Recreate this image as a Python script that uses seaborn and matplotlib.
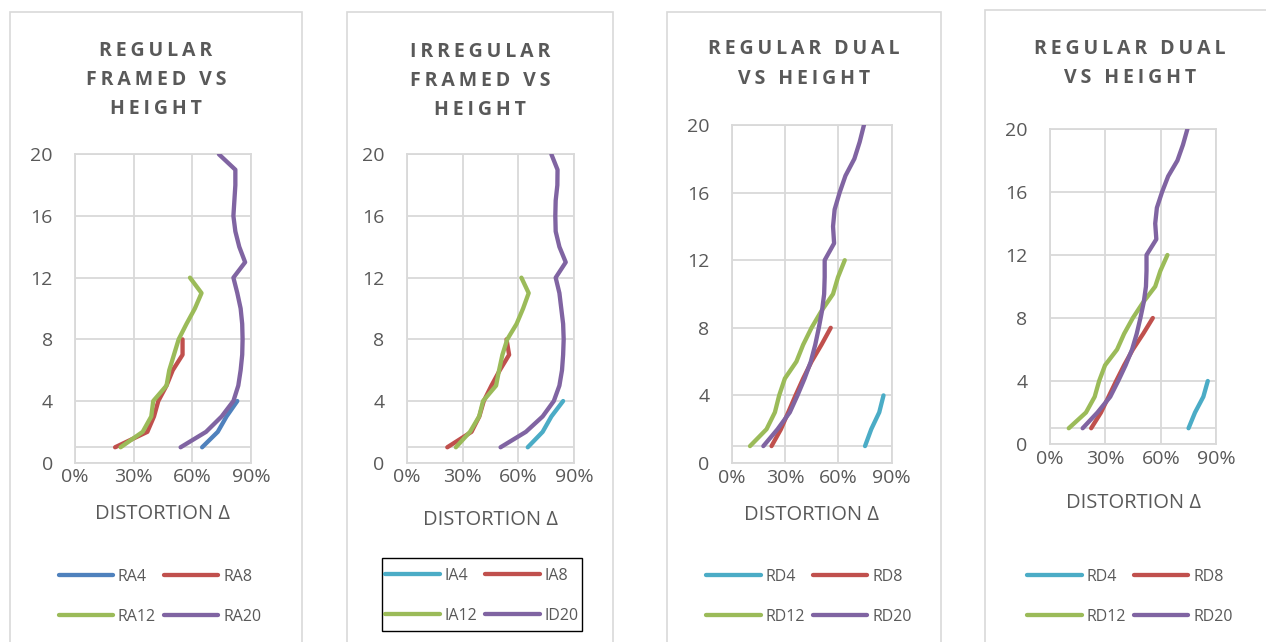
import matplotlib
matplotlib.use("Agg")
import matplotlib.pyplot as plt
from matplotlib.patches import Rectangle
import pandas as pd
import seaborn as sns

# ---- storey levels -------------------------------------------------------
levels_4 = [1, 2, 3, 4]
levels_8 = [1, 2, 3, 4, 5, 6, 7, 8]
levels_12 = [1, 2, 3, 4, 5, 6, 7, 8, 9, 10, 11, 12]
levels_20 = [1, 2, 3, 4, 5, 6, 7, 8, 9, 10, 11, 12, 13, 14, 15, 16, 17, 18, 19, 20]

# ---- distortion (%) per storey ------------------------------------------
ra4 = [65, 73, 77.5, 83]
ra8 = [20.5, 37, 40.4, 42.6, 46.8, 50, 55, 55]
ra12 = [23.3, 34.6, 39, 40, 46.8, 48.2, 50.6, 53, 57, 61.3, 64.7, 58.8]
ra20 = [54, 67, 75, 81, 83.5, 84.7, 85.5, 85.7, 85.5, 84.7, 83, 81,
        87, 84, 82, 81, 81.5, 82, 82, 73.6]

ia4 = [65, 73, 77.7, 84]
ia8 = [21.8, 34.8, 39, 41.4, 45.5, 50, 55, 53.6]
ia12 = [26.4, 34, 38.9, 41, 48, 49.6, 51.4, 54, 59, 62.5, 65.5, 61.6]
id20 = [50.4, 64, 73, 79, 82, 83.4, 84, 84.3, 84, 83, 82, 80,
        85.4, 82, 80, 79.8, 80, 80.9, 81, 77.7]

rd4 = [75, 78.5, 83, 85.4]
rd8 = [22.4, 27.7, 31.8, 35.9, 40.2, 44.9, 50.5, 55.7]
rd12 = [10.3, 19.6, 24.3, 26.7, 29.9, 36.4, 40.2, 44.9, 50.5, 57, 59.8, 63.6]
rd20 = [17.8, 25.8, 32.7, 37, 41, 44.5, 47, 49, 50.8, 52, 52.3, 52.3,
        57.6, 57, 57.9, 60.7, 64, 69, 72, 74.4]

titles = [["REGULAR", "FRAMED VS", "HEIGHT"], ["IRREGULAR", "FRAMED VS", "HEIGHT"],
          ["REGULAR DUAL", "VS HEIGHT"], ["REGULAR DUAL", "VS HEIGHT"]]
x_label = "DISTORTION Δ"
x_ticks = [0, 30, 60, 90]
y_ticks = [0, 4, 8, 12, 16, 20]

BLUE, RED, GREEN, PURPLE, CYAN = "#4F81BD", "#C0504D", "#9BBB59", "#8064A2", "#4BACC6"
TEXT = "#595959"
GRID = "#D9D9D9"

panels = [
    {"names": ["RA4", "RA8", "RA12", "RA20"], "values": [ra4, ra8, ra12, ra20],
     "colors": [BLUE, RED, GREEN, PURPLE]},
    {"names": ["IA4", "IA8", "IA12", "ID20"], "values": [ia4, ia8, ia12, id20],
     "colors": [CYAN, RED, GREEN, PURPLE]},
    {"names": ["RD4", "RD8", "RD12", "RD20"], "values": [rd4, rd8, rd12, rd20],
     "colors": [CYAN, RED, GREEN, PURPLE]},
    {"names": ["RD4", "RD8", "RD12", "RD20"], "values": [rd4, rd8, rd12, rd20],
     "colors": [CYAN, RED, GREEN, PURPLE]},
]
levels = [levels_4, levels_8, levels_12, levels_20]

# ---- layout in pixels ----------------------------------------------------
W, H = 1266, 642
boxes = [(10, 302, 12), (347, 613, 12), (667, 941, 12), (985, 1275, 10)]
plot_areas = [(75, 251, 154.3, 462.7), (406.7, 574.3, 154.3, 462.7),
              (731.7, 891.7, 125, 463), (1049.7, 1216.3, 129, 444)]
title_rows = [[48.7, 78.3, 106.5], [50, 79, 108], [47.5, 77], [46.5, 76]]
label_base = [519, 525, 520, 508]
legend_xy = [(160, 597), (482, 596), (809, 597), (1130, 597)]

sns.set_theme(style="white")
FONTS = ["Open Sans", "DejaVu Sans"]
plt.rcParams["font.family"] = FONTS

fig = plt.figure(figsize=(W / 100, H / 100), dpi=100)
fig.patch.set_facecolor("white")


def spaced(line):
    """Letter-spaced heading line."""
    words = ["\u2009".join(w) for w in line.split(" ")]
    return "\u2009 \u2009".join(words)


def fy(y):
    return 1 - y / H


for i, panel in enumerate(panels):
    bx0, bx1, btop = boxes[i]
    fig.patches.append(Rectangle((bx0 / W, -0.1), (bx1 - bx0) / W, 1.1 - btop / H,
                                 transform=fig.transFigure, facecolor="white",
                                 edgecolor=GRID, linewidth=1.2, zorder=-5))

    l, r, t, b = plot_areas[i]
    ax = fig.add_axes([l / W, fy(b), (r - l) / W, (b - t) / H])
    ax.set_zorder(2)
    ax.set_facecolor("none")

    frames = []
    for name, vals, lv in zip(panel["names"], panel["values"], levels):
        frames.append(pd.DataFrame({"series": name, "distortion": vals, "storey": lv}))
    df = pd.concat(frames, ignore_index=True)

    sns.lineplot(data=df, x="distortion", y="storey", hue="series",
                 palette=dict(zip(panel["names"], panel["colors"])),
                 sort=False, estimator=None, linewidth=3.1, legend=False,
                 ax=ax, zorder=3)
    for ln in ax.get_lines():
        ln.set_solid_capstyle("round")
        ln.set_solid_joinstyle("round")

    ax.set_xlim(0, 90)
    ax.set_ylim(0, 20)
    ax.set_xticks(x_ticks)
    ax.set_xticklabels([f"{v}%" for v in x_ticks])
    ax.set_yticks(y_ticks)
    ax.grid(True, color=GRID, linewidth=1.3, zorder=0)
    ax.axhline(1, color=GRID, linewidth=1.3, zorder=1)
    for sp in ax.spines.values():
        sp.set_color(GRID)
        sp.set_linewidth(1.3)
    ax.tick_params(axis="both", length=0, labelsize=14, colors=TEXT)
    ax.tick_params(axis="y", pad=16)
    ax.tick_params(axis="x", pad=4)
    ax.set_xlabel("")
    ax.set_ylabel("")

    # heading lines
    for line, yc in zip(titles[i], title_rows[i]):
        fig.text((bx0 + bx1) / 2 / W, fy(yc + 7), spaced(line),
                 ha="center", va="baseline", fontsize=14, fontweight="bold",
                 color=TEXT)
    # axis title
    fig.text((l + r) / 2 / W, fy(label_base[i]), x_label,
             ha="center", va="baseline", fontsize=14.5, color=TEXT)

    # legend: two rows, row-major order
    lines = ax.get_lines()[:4]
    handles = [lines[0], lines[2], lines[1], lines[3]]
    labels = [panel["names"][0], panel["names"][2], panel["names"][1], panel["names"][3]]
    lx, ly = legend_xy[i]
    leg = fig.legend(handles, labels, loc="center", ncol=2,
                     bbox_to_anchor=(lx / W, fy(ly)),
                     bbox_transform=fig.transFigure,
                     fontsize=11.5, handlelength=3.4, handletextpad=0.3,
                     columnspacing=0.5, labelspacing=1.5,
                     frameon=False, borderpad=0.5, borderaxespad=0)
    for txt in leg.get_texts():
        txt.set_color(TEXT)
    if i == 1:
        fig.patches.append(Rectangle((382 / W, fy(631)), 200 / W, 73 / H,
                                     transform=fig.transFigure, facecolor="none",
                                     edgecolor="black", linewidth=1.0, zorder=5))

fig.savefig("out.png", dpi=100, facecolor="white")
